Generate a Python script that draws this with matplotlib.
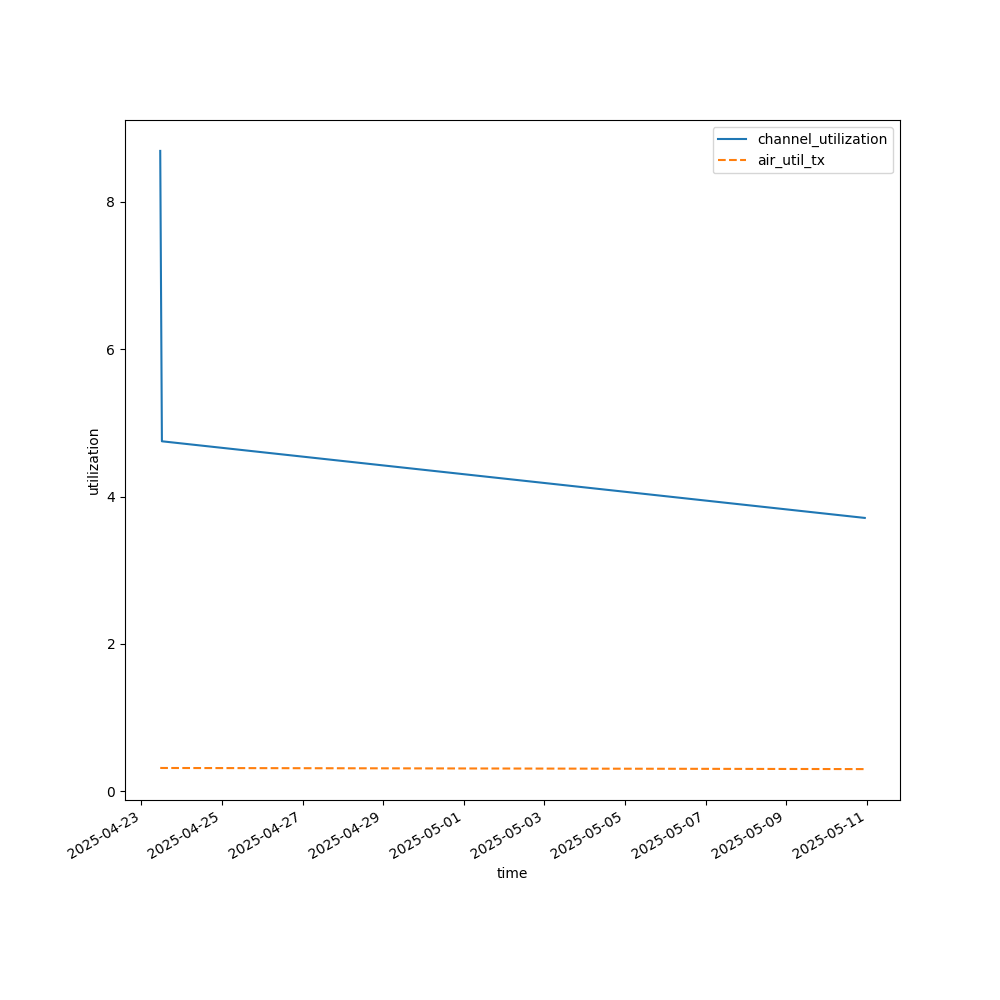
import matplotlib
matplotlib.use("Agg")
import matplotlib.pyplot as plt
import pandas as pd

times = pd.to_datetime(["2025-04-23 11:15", "2025-04-23 12:15", "2025-05-10 22:50"])
channel_utilization = [8.69, 4.75, 3.71]
air_util_tx = [0.318, 0.317, 0.302]

fig, ax = plt.subplots(figsize=(10, 10), dpi=100)
ax.plot(times, channel_utilization, label="channel_utilization")
ax.plot(times, air_util_tx, linestyle="--", label="air_util_tx")
ax.set_xlabel("time")
ax.set_ylabel("utilization")
ax.legend(loc="upper right")
fig.autofmt_xdate()
fig.savefig("out.png")
